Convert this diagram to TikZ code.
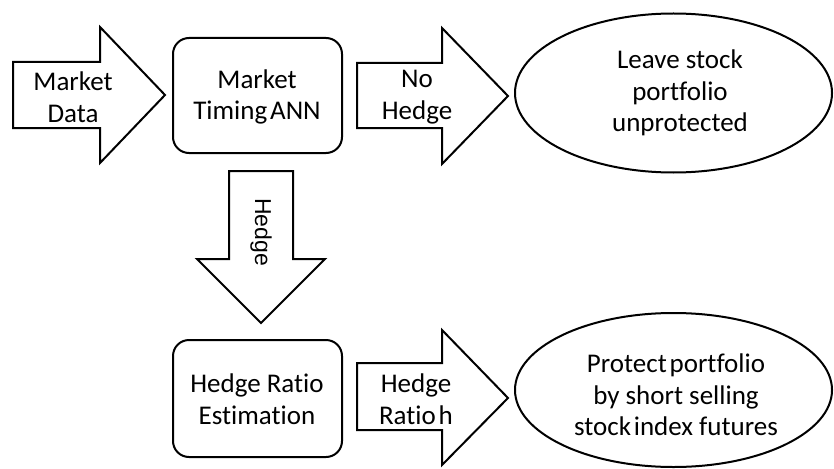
\documentclass[tikz,border=0pt]{standalone}
\usepackage{fontspec}
\setmainfont[Ligatures=NoCommon]{Carlito}
\newfontfamily\armfont{Liberation Sans}
\begin{document}
\begin{tikzpicture}[x=1pt,y=-1pt,
  shapeline/.style={draw=black, line width=2pt, fill=white, line join=miter},
  boxline/.style={draw=black, line width=2pt, fill=white, rounded corners=16pt},
  lbl/.style={align=center, font=\fontsize{27}{31.5}\selectfont, inner sep=0pt}]
\useasboundingbox (0,0) rectangle (834,468);
% Market Data arrow
\draw[shapeline] (13,62) -- (100,62) -- (100,27) -- (165,95) -- (100,163) -- (100,128) -- (13,128) -- cycle;
\node[lbl] (mdata) at (73,97) {Market\\Data};
% Market Timing ANN box
\draw[boxline] (173,38) rectangle (342,153);
\node[lbl] (mtann) at (257,97) {Market\\Timing\hspace{-0.12em} ANN};
% No Hedge arrow
\draw[shapeline] (357,63) -- (442,63) -- (442,28) -- (508,96) -- (442,164) -- (442,128) -- (357,128) -- cycle;
\node[lbl] (nohedge) at (417,97) {No\\Hedge};
% Ellipse 1
\draw[line width=2pt] (673.5,93) ellipse [x radius=158.5, y radius=79.5];
\node[lbl] (leave) at (680,93) {Leave stock\\portfolio\\unprotected};
% Hedge down arrow
\draw[shapeline] (229,171) -- (293,171) -- (293,259) -- (325,259) -- (261,323) -- (197,259) -- (229,259) -- cycle;
\node[lbl, font=\armfont\fontsize{23}{28}\selectfont, rotate=-90] (hedge) at (261,232) {Hedge};
% Hedge Ratio Estimation box
\draw[boxline] (173,340) rectangle (342,457);
\node[lbl] (hre) at (257,399) {Hedge Ratio\\Estimation};
% Hedge Ratio h arrow
\draw[shapeline] (357,363) -- (442,363) -- (442,330) -- (508,398) -- (442,465) -- (442,430) -- (357,430) -- cycle;
\node[lbl] (hrh) at (416,399) {Hedge\\Ratio\hspace{-0.12em} h};
% Ellipse 2
\draw[line width=2pt] (673.5,390) ellipse [x radius=158.5, y radius=77];
\node[lbl] (protect) at (676,395) {Protect\hspace{-0.12em} portfolio\\by short selling\\stock\hspace{-0.12em} index futures};
\end{tikzpicture}
\end{document}
